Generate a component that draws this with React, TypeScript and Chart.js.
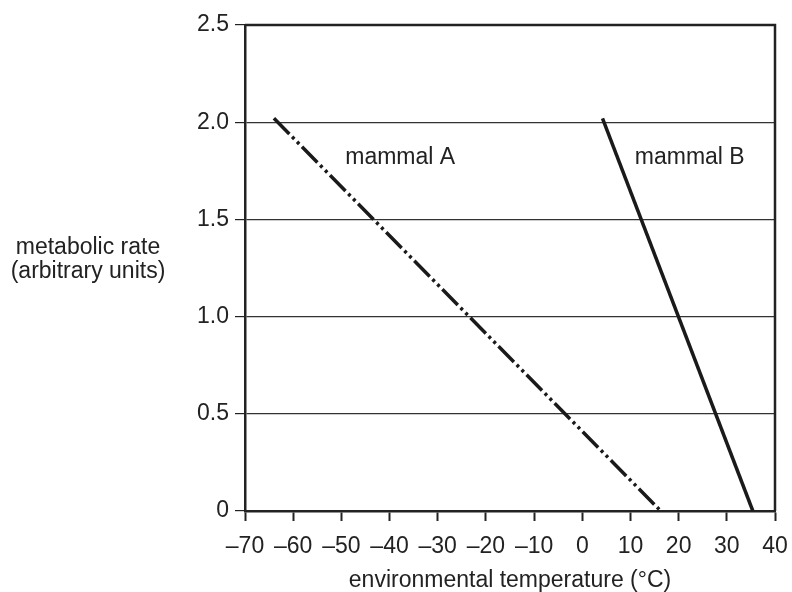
import React, { useEffect, useRef } from "react";
import { Chart, registerables } from "chart.js";

Chart.register(...registerables);

const mammalAX = [-64, 16.3];
const mammalAY = [2.02, 0];
const mammalBX = [4.2, 35.4];
const mammalBY = [2.02, 0];

const seriesLabels = ["mammal A", "mammal B"];
const seriesLabelX = [-49.2, 10.9];
const seriesLabelY = [1.82, 1.82];

const xTitle = "environmental temperature (°C)";
const yTitleLines = ["metabolic rate", "(arbitrary units)"];

const FONT = "'Liberation Sans', Arial, Helvetica, sans-serif";
const INK = "#222222";

const extrasPlugin = {
  id: "extras",
  afterDraw(chart: any) {
    const { ctx, chartArea, scales } = chart;
    ctx.save();
    // frame (top & right)
    ctx.strokeStyle = INK;
    ctx.lineWidth = 2.5;
    ctx.beginPath();
    ctx.moveTo(chartArea.left, chartArea.top);
    ctx.lineTo(chartArea.right, chartArea.top);
    ctx.lineTo(chartArea.right, chartArea.bottom);
    ctx.stroke();
    // series labels
    ctx.fillStyle = INK;
    ctx.font = `23px ${FONT}`;
    ctx.textAlign = "left";
    ctx.textBaseline = "middle";
    seriesLabels.forEach((t, i) => {
      ctx.fillText(t, scales.x.getPixelForValue(seriesLabelX[i]), scales.y.getPixelForValue(seriesLabelY[i]));
    });
    // y title (horizontal)
    ctx.textAlign = "center";
    yTitleLines.forEach((t, i) => {
      ctx.fillText(t, 88, 248 + i * 24);
    });
    ctx.restore();
  },
};

export default function App() {
  const ref = useRef<HTMLCanvasElement | null>(null);
  useEffect(() => {
    document.body.style.margin = "0";
    const canvas = ref.current;
    if (!canvas) return;
    const chart = new Chart(canvas, {
      type: "line",
      data: {
        datasets: [
          {
            label: seriesLabels[0],
            data: mammalAX.map((x, i) => ({ x, y: mammalAY[i] })),
            borderColor: "#1a1a1a",
            borderWidth: 3.5,
            borderDash: [22, 4, 3, 4, 3, 4],
            pointRadius: 0,
            fill: false,
          },
          {
            label: seriesLabels[1],
            data: mammalBX.map((x, i) => ({ x, y: mammalBY[i] })),
            borderColor: "#1a1a1a",
            borderWidth: 3.5,
            pointRadius: 0,
            fill: false,
          },
        ],
      },
      options: {
        animation: false,
        responsive: false,
        layout: { padding: { left: 0, right: 17, top: 25, bottom: 0 } },
        plugins: { legend: { display: false }, tooltip: { enabled: false } },
        scales: {
          x: {
            type: "linear",
            min: -70,
            max: 40,
            afterFit: (s: any) => {
              s.height = 81;
              s.paddingLeft = 0;
              s.paddingRight = 0;
            },
            ticks: {
              stepSize: 10,
              color: INK,
              padding: 12,
              maxRotation: 0,
              minRotation: 0,
              font: { family: FONT, size: 23 },
              callback: (v: any) => (v < 0 ? "\u2013" + Math.abs(v) : String(v)),
            },
            grid: {
              drawOnChartArea: false,
              drawTicks: true,
              tickLength: 10,
              tickWidth: 2,
              tickColor: INK,
            },
            border: { display: true, color: INK, width: 2.5 },
            title: {
              display: true,
              text: xTitle,
              color: INK,
              font: { family: FONT, size: 23, lineHeight: 1 },
              padding: { top: 0, bottom: 0 },
            },
          },
          y: {
            type: "linear",
            min: 0,
            max: 2.5,
            afterFit: (s: any) => {
              s.width = 245;
              s.paddingTop = 0;
              s.paddingBottom = 0;
            },
            ticks: {
              stepSize: 0.5,
              color: INK,
              padding: 6,
              font: { family: FONT, size: 23 },
              callback: (v: any) => (v === 0 ? "0" : Number(v).toFixed(1)),
            },
            grid: {
              drawOnChartArea: true,
              drawTicks: true,
              tickLength: 10,
              color: "#333333",
              lineWidth: 1.2,
              tickColor: INK,
            },
            border: { display: true, color: INK, width: 2.5 },
          },
        },
      },
      plugins: [extrasPlugin],
    } as any);
    return () => chart.destroy();
  }, []);
  return (
    <div style={{ width: 792, height: 592 }}>
      <canvas ref={ref} width={792} height={592} style={{ display: "block" }} />
    </div>
  );
}
